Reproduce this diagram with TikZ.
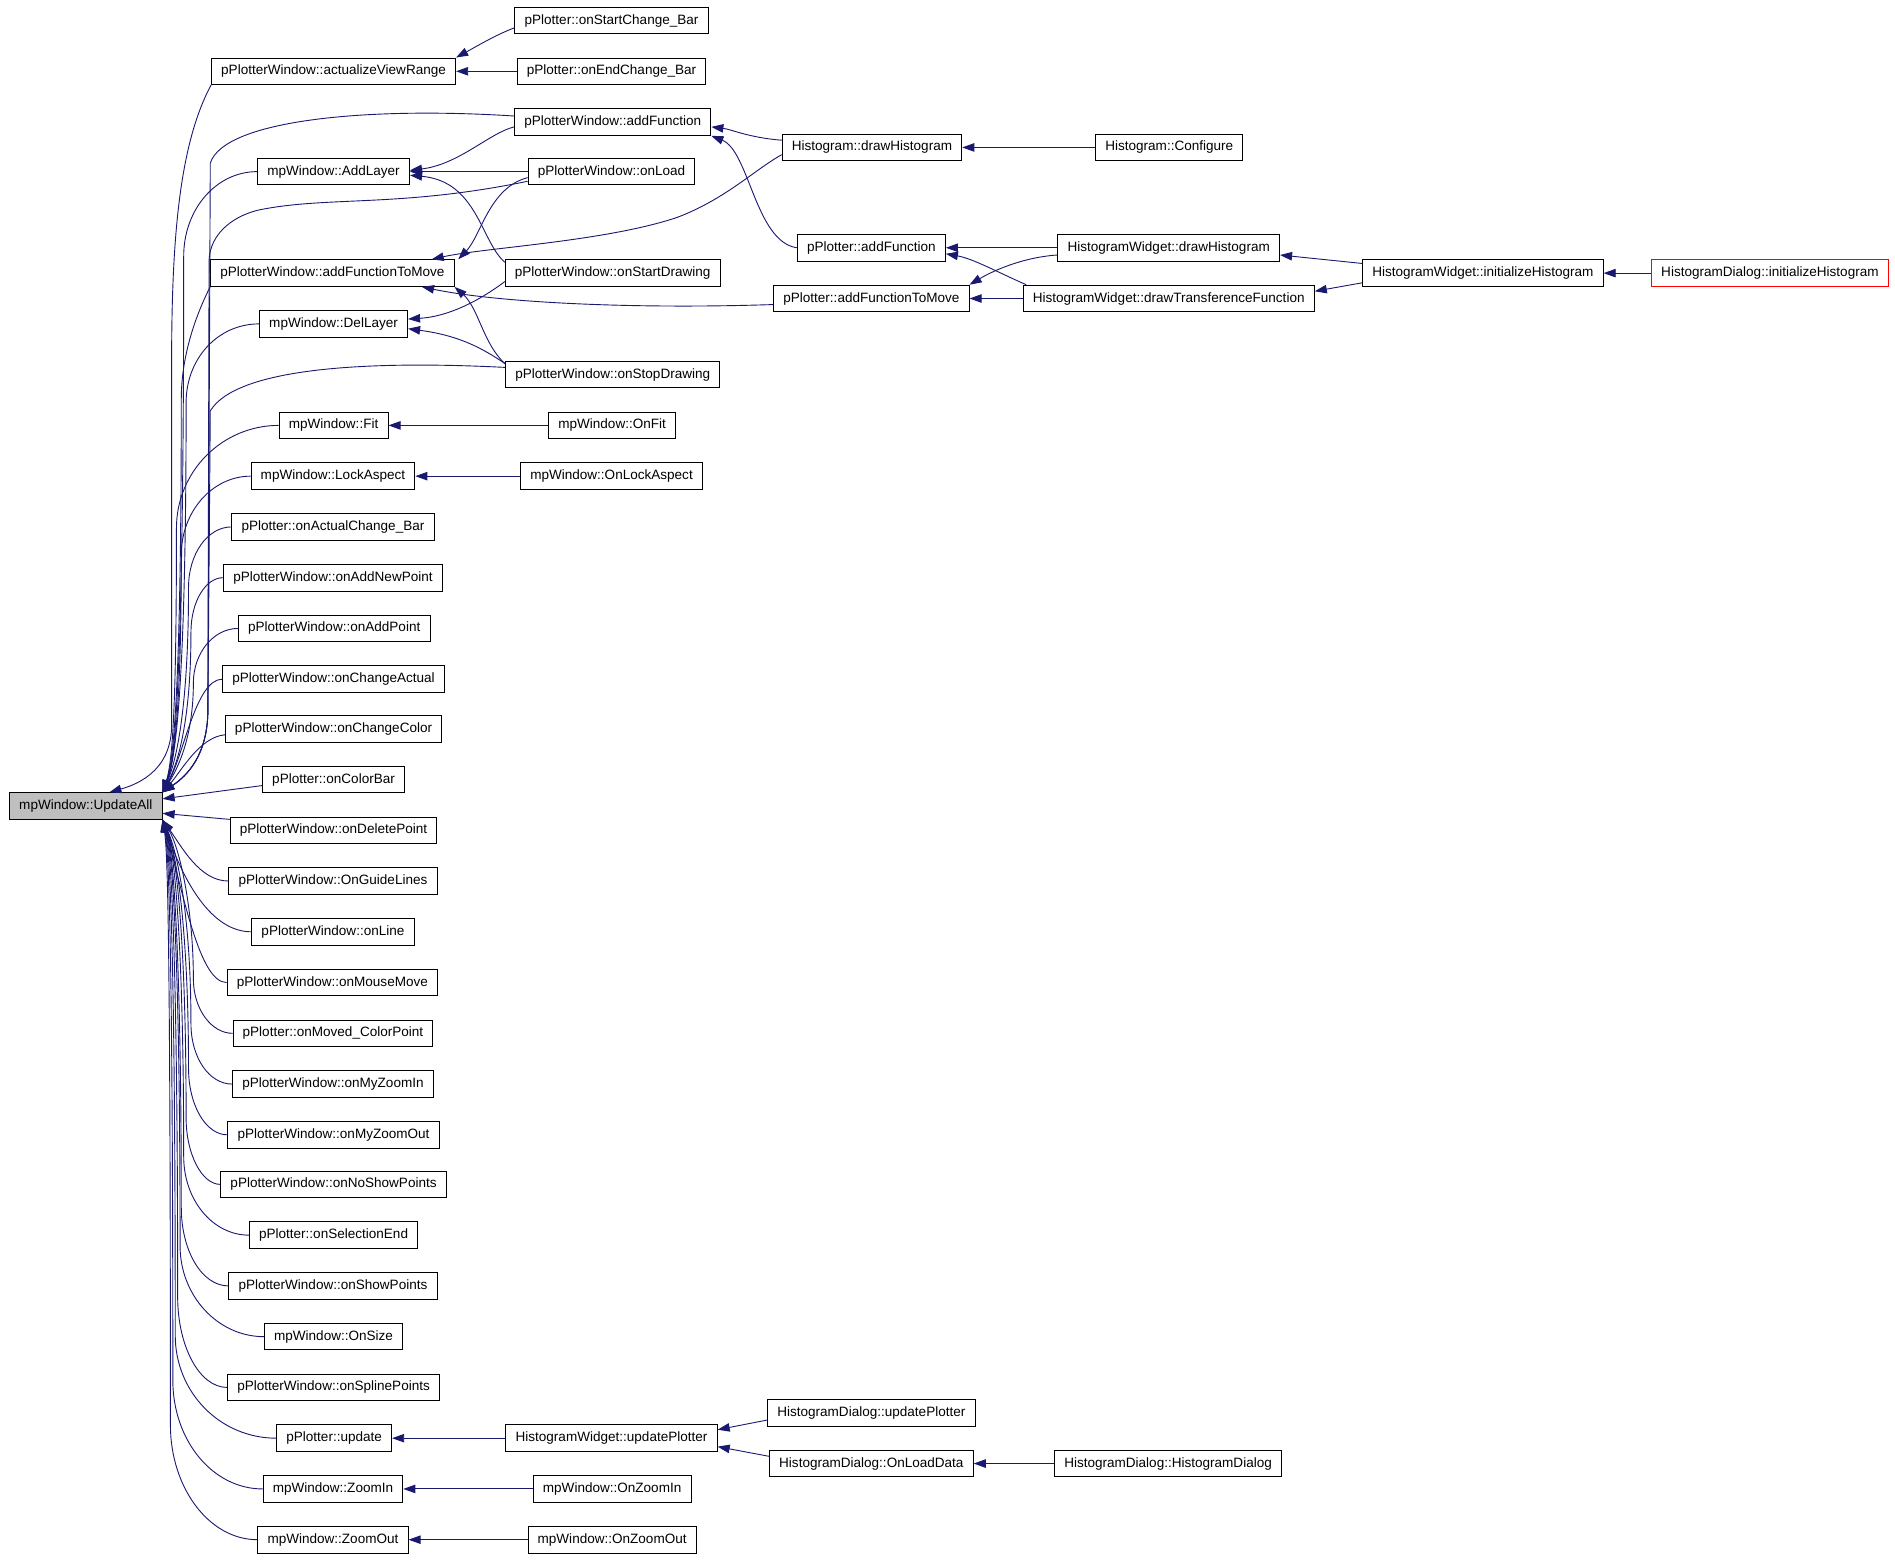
\documentclass[tikz,border=0pt]{standalone}
\usepackage{fontspec}
\setmainfont{Liberation Sans}
\usepackage{tikz}
\usetikzlibrary{arrows.meta}
\definecolor{edgeblue}{HTML}{191970}
\definecolor{rootgray}{HTML}{BFBFBF}
\newcommand{\fnfont}{\fontsize{11.2pt}{13pt}\selectfont}

\begin{document}
\begin{tikzpicture}[
            x=1pt, y=-1pt,
            func-node/.style={rectangle,draw=black,line width=0.8pt,minimum height=22pt,inner xsep=8pt,inner ysep=0pt,font=\fnfont},
            root-node/.style={func-node,fill=rootgray},
            focus-node/.style={func-node,draw=red},
            call-edge/.style={draw=edgeblue,line width=0.75pt,-{Triangle[length=10pt,width=7pt]}},
        ]
            \useasboundingbox (0,0) rectangle (1568,1292);

            \node[root-node] (updateAll) at (71, 667) {mpWindow::UpdateAll};

            \node[func-node] (actView) at (276, 59) {pPlotterWindow::actualizeViewRange};
            \node[func-node] (addLayer) at (276, 142) {mpWindow::AddLayer};
            \node[func-node] (pwAddFtm) at (275, 226) {pPlotterWindow::addFunctionToMove};
            \node[func-node] (delLayer) at (276, 268) {mpWindow::DelLayer};
            \node[func-node] (fit) at (276, 352) {mpWindow::Fit};
            \node[func-node] (lockAspect) at (275.5, 394) {mpWindow::LockAspect};
            \node[func-node] (onActualChange) at (275.5, 436) {pPlotter::onActualChange\_Bar};
            \node[func-node] (onAddNewPoint) at (275.5, 478) {pPlotterWindow::onAddNewPoint};
            \node[func-node] (onAddPoint) at (276.5, 520) {pPlotterWindow::onAddPoint};
            \node[func-node] (onChangeActual) at (276, 562) {pPlotterWindow::onChangeActual};
            \node[func-node] (onChangeColor) at (276, 603) {pPlotterWindow::onChangeColor};
            \node[func-node] (onColorBar) at (276, 645) {pPlotter::onColorBar};
            \node[func-node] (onDeletePoint) at (276, 687) {pPlotterWindow::onDeletePoint};
            \node[func-node] (onGuideLines) at (275.5, 729) {pPlotterWindow::OnGuideLines};
            \node[func-node] (onLine) at (275.5, 771) {pPlotterWindow::onLine};
            \node[func-node] (onMouseMove) at (275, 813) {pPlotterWindow::onMouseMove};
            \node[func-node] (onMovedColorPoint) at (275.5, 855) {pPlotter::onMoved\_ColorPoint};
            \node[func-node] (onMyZoomIn) at (275.5, 897) {pPlotterWindow::onMyZoomIn};
            \node[func-node] (onMyZoomOut) at (276, 939) {pPlotterWindow::onMyZoomOut};
            \node[func-node] (onNoShowPoints) at (276, 980) {pPlotterWindow::onNoShowPoints};
            \node[func-node] (onSelectionEnd) at (276, 1022) {pPlotter::onSelectionEnd};
            \node[func-node] (onShowPoints) at (275.5, 1064) {pPlotterWindow::onShowPoints};
            \node[func-node] (onSize) at (276, 1106) {mpWindow::OnSize};
            \node[func-node] (onSplinePoints) at (276, 1148) {pPlotterWindow::onSplinePoints};
            \node[func-node] (update) at (276.5, 1190) {pPlotter::update};
            \node[func-node] (zoomIn) at (275.5, 1232) {mpWindow::ZoomIn};
            \node[func-node] (zoomOut) at (275.5, 1274) {mpWindow::ZoomOut};

            \node[func-node] (onStartChange) at (506, 17) {pPlotter::onStartChange\_Bar};
            \node[func-node] (onEndChange) at (506, 59) {pPlotter::onEndChange\_Bar};
            \node[func-node] (pwAddFunction) at (507, 101) {pPlotterWindow::addFunction};
            \node[func-node] (onLoad) at (506, 142) {pPlotterWindow::onLoad};
            \node[func-node] (onStartDrawing) at (507, 226) {pPlotterWindow::onStartDrawing};
            \node[func-node] (onStopDrawing) at (507, 310) {pPlotterWindow::onStopDrawing};
            \node[func-node] (onFit) at (506.5, 352) {mpWindow::OnFit};
            \node[func-node] (onLockAspect) at (506, 394) {mpWindow::OnLockAspect};
            \node[func-node] (hwUpdatePlotter) at (506, 1190) {HistogramWidget::updatePlotter};
            \node[func-node] (onZoomIn) at (506.5, 1232) {mpWindow::OnZoomIn};
            \node[func-node] (onZoomOut) at (506.5, 1274) {mpWindow::OnZoomOut};

            \node[func-node] (hDrawHist) at (721.5, 122) {Histogram::drawHistogram};
            \node[func-node] (ptAddFunction) at (721, 205) {pPlotter::addFunction};
            \node[func-node] (ptAddFtm) at (721, 247) {pPlotter::addFunctionToMove};
            \node[func-node] (hdUpdatePlotter) at (721, 1169) {HistogramDialog::updatePlotter};
            \node[func-node] (hdOnLoadData) at (721, 1211) {HistogramDialog::OnLoadData};

            \node[func-node] (hConfigure) at (967.5, 122) {Histogram::Configure};
            \node[func-node] (hwDrawHist) at (967, 205) {HistogramWidget::drawHistogram};
            \node[func-node] (hwDrawTF) at (967, 247) {HistogramWidget::drawTransferenceFunction};
            \node[func-node] (hdCtor) at (966.5, 1211) {HistogramDialog::HistogramDialog};

            \node[func-node] (hwInitHist) at (1227, 226) {HistogramWidget::initializeHistogram};
            \node[focus-node] (hdInitHist) at (1464.5, 226) {HistogramDialog::initializeHistogram};

            % callers on the right
            \draw[call-edge] ([yshift=-6pt]onStartChange.west) .. controls (410,29) and (395,38) .. (actView.north east);
            \draw[call-edge] (onEndChange) -- (actView);
            \draw[call-edge] ([yshift=-4pt]pwAddFunction.west) .. controls (405,110) and (380,136) .. ([yshift=1pt]addLayer.east);
            \draw[call-edge] ([yshift=6pt]hDrawHist.west) .. controls (620,114) and (605,107) .. ([yshift=-4pt]pwAddFunction.east);
            \draw[call-edge] (hConfigure) -- (hDrawHist);
            \draw[call-edge] (ptAddFunction.west) .. controls (625,200) and (620,125) .. (pwAddFunction.south east);
            \draw[call-edge] ([yshift=-6pt]hDrawHist.west) .. controls (625,140) and (600,165) .. (560,180) .. controls (500,200) and (400,205) .. ([xshift=-19pt]pwAddFtm.north east);
            \draw[call-edge] ([yshift=-5pt]onLoad.west) .. controls (405,155) and (398,195) .. ([xshift=3pt]pwAddFtm.north east);
            \draw[call-edge] (onLoad) -- (addLayer);
            \draw[call-edge] ([yshift=9pt]onStartDrawing.west) .. controls (398,200) and (395,150) .. ([yshift=-3pt]addLayer.east);
            \draw[call-edge] ([yshift=-7pt]onStartDrawing.west) .. controls (395,250) and (370,262) .. ([yshift=4pt]delLayer.east);
            \draw[call-edge] ([yshift=9pt]onStopDrawing.west) .. controls (395,285) and (375,277) .. ([yshift=-4pt]delLayer.east);
            \draw[call-edge] ([yshift=9pt]onStopDrawing.west) .. controls (400,285) and (396,255) .. (pwAddFtm.south east);
            \draw[call-edge] ([yshift=-5pt]ptAddFtm.west) .. controls (520,256) and (410,250) .. ([xshift=-27pt]pwAddFtm.south east);
            \draw[call-edge] (hwDrawHist) -- (ptAddFunction);
            \draw[call-edge] ([xshift=3pt]hwDrawTF.north west) .. controls (825,225) and (805,214) .. ([yshift=-5pt]ptAddFunction.east);
            \draw[call-edge] ([yshift=-6pt]hwDrawHist.west) .. controls (845,213) and (820,225) .. (ptAddFtm.north east);
            \draw[call-edge] (hwDrawTF) -- (ptAddFtm);
            \draw[call-edge] ([yshift=8pt]hwInitHist.west) -- ([yshift=-6pt]hwDrawHist.east);
            \draw[call-edge] ([yshift=-8pt]hwInitHist.west) -- ([yshift=6pt]hwDrawTF.east);
            \draw[call-edge] (hdInitHist) -- (hwInitHist);
            \draw[call-edge] (onFit) -- (fit);
            \draw[call-edge] (onLockAspect) -- (lockAspect);
            \draw[call-edge] (hwUpdatePlotter) -- (update);
            \draw[call-edge] ([yshift=-6pt]hdUpdatePlotter.west) -- ([yshift=7pt]hwUpdatePlotter.east);
            \draw[call-edge] ([yshift=6pt]hdOnLoadData.west) -- ([yshift=-7pt]hwUpdatePlotter.east);
            \draw[call-edge] (hdCtor) -- (hdOnLoadData);
            \draw[call-edge] (onZoomIn) -- (zoomIn);
            \draw[call-edge] (onZoomOut) -- (zoomOut);

            % callers of mpWindow::UpdateAll
            \draw[call-edge] (actView.south west) .. controls (148,120) and (142,200) .. (142,300) -- (142,600) .. controls (142,640) and (110,650) .. ([xshift=-44pt]updateAll.north east);
            \draw[call-edge] ([yshift=5pt]pwAddFunction.west) .. controls (300,88) and (185,100) .. (174,135) -- (172,590) .. controls (171,630) and (150,645) .. (updateAll.north east);
            \draw[call-edge] ([yshift=-8pt]onLoad.west) .. controls (330,172) and (270,162) .. (213,174) .. controls (190,180) and (174,195) .. (173,215) -- (172,590) .. controls (171,630) and (150,645) .. (updateAll.north east);
            \draw[call-edge] ([yshift=6pt]onStopDrawing.west) .. controls (300,298) and (195,305) .. (174,340) -- (172,590) .. controls (171,630) and (150,645) .. (updateAll.north east);
            \draw[call-edge] (addLayer.west) .. controls (179,142) and (152,173) .. (152,212) .. controls (152,560) and (145,630) .. (updateAll.north east);
            \draw[call-edge] (pwAddFtm.south west) .. controls (165,255) and (150,290) .. (150,330) .. controls (150,560) and (144,630) .. (updateAll.north east);
            \draw[call-edge] (delLayer.west) .. controls (180,268) and (154,297) .. (154,333) .. controls (154,570) and (145,630) .. (updateAll.north east);
            \draw[call-edge] (fit.west) .. controls (184,352) and (146,390) .. (146,437) .. controls (146,580) and (143,630) .. (updateAll.north east);
            \draw[call-edge] (lockAspect.west) .. controls (176,394) and (150,423) .. (150,459) .. controls (150,590) and (144,630) .. (updateAll.north east);
            \draw[call-edge] (onActualChange.west) .. controls (172,436) and (156,458) .. (156,486) .. controls (156,590) and (145,632) .. (updateAll.north east);
            \draw[call-edge] (onAddNewPoint.west) .. controls (170,478) and (158,498) .. (158,523) .. controls (158,600) and (146,634) .. (updateAll.north east);
            \draw[call-edge] (onAddPoint.west) .. controls (177,520) and (160,540) .. (160,565) .. controls (160,610) and (147,636) .. (updateAll.north east);
            \draw[call-edge] (onChangeActual.west) .. controls (162,562) and (152,625) .. (updateAll.north east);
            \draw[call-edge] ([yshift=-5pt]onChangeColor.west) .. controls (165,610) and (150,638) .. (updateAll.north east);
            \draw[call-edge] ([yshift=-5pt]onColorBar.west) -- ([yshift=6pt]updateAll.east);
            \draw[call-edge] ([yshift=9pt]onDeletePoint.west) -- ([yshift=-6pt]updateAll.east);
            \draw[call-edge] (onGuideLines.west) .. controls (165,729) and (150,700) .. (updateAll.south east);
            \draw[call-edge] (onLine.west) .. controls (175,771) and (152,730) .. (updateAll.south east);
            \draw[call-edge] (onMouseMove.west) .. controls (165,813) and (152,740) .. (updateAll.south east);
            \draw[call-edge] (onMovedColorPoint.west) .. controls (175,855) and (160,835) .. (160,810) .. controls (160,750) and (148,700) .. (updateAll.south east);
            \draw[call-edge] (onMyZoomIn.west) .. controls (173,897) and (158,875) .. (158,847) .. controls (158,760) and (147,705) .. (updateAll.south east);
            \draw[call-edge] (onMyZoomOut.west) .. controls (170,939) and (156,914) .. (156,884) .. controls (156,770) and (146,705) .. (updateAll.south east);
            \draw[call-edge] (onNoShowPoints.west) .. controls (167,980) and (154,955) .. (154,925) .. controls (154,780) and (146,705) .. (updateAll.south east);
            \draw[call-edge] (onSelectionEnd.west) .. controls (176,1022) and (152,993) .. (152,957) .. controls (152,790) and (145,705) .. (updateAll.south east);
            \draw[call-edge] (onShowPoints.west) .. controls (167,1064) and (150,1035) .. (150,999) .. controls (150,800) and (144,705) .. (updateAll.south east);
            \draw[call-edge] (onSize.west) .. controls (180,1106) and (149,1072) .. (149,1031) .. controls (149,800) and (143,705) .. (updateAll.south east);
            \draw[call-edge] (onSplinePoints.west) .. controls (165,1148) and (147,1114) .. (147,1073) .. controls (147,800) and (142,705) .. (updateAll.south east);
            \draw[call-edge] (update.west) .. controls (182,1190) and (145,1152) .. (145,1105) .. controls (145,800) and (141,705) .. (updateAll.south east);
            \draw[call-edge] (zoomIn.west) .. controls (176,1232) and (143,1192) .. (143,1142) .. controls (143,800) and (140,705) .. (updateAll.south east);
            \draw[call-edge] (zoomOut.west) .. controls (173,1274) and (141,1231) .. (141,1179) .. controls (141,800) and (139,705) .. (updateAll.south east);
        \end{tikzpicture}
\end{document}
